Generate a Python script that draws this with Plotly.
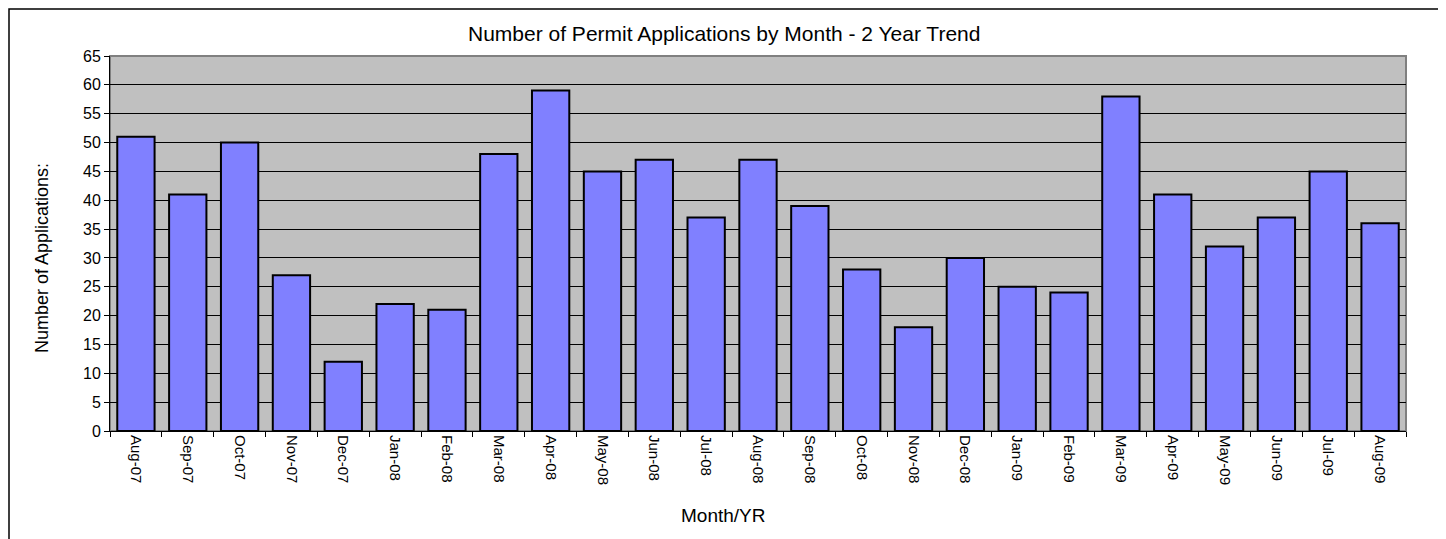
import plotly.graph_objects as go

months = ["Aug-07", "Sep-07", "Oct-07", "Nov-07", "Dec-07", "Jan-08", "Feb-08", "Mar-08",
          "Apr-08", "May-08", "Jun-08", "Jul-08", "Aug-08", "Sep-08", "Oct-08", "Nov-08",
          "Dec-08", "Jan-09", "Feb-09", "Mar-09", "Apr-09", "May-09", "Jun-09", "Jul-09", "Aug-09"]
applications = [51, 41, 50, 27, 12, 22, 21, 48, 59, 45, 47, 37, 47, 39, 28, 18,
                30, 25, 24, 58, 41, 32, 37, 45, 36]
y_ticks = list(range(0, 70, 5))

FONT = "Liberation Sans, Arial, sans-serif"

# page body has an 8px margin: figure coords = screen coords - 8
W, H = 1446, 539
L, T = 102, 48
R = W - 1398
B = H - 423
pw, ph = 1398 - L, 423 - T

def px(fx):
    return (fx - L) / pw

def py(fy):
    return (423 - fy) / ph

fig = go.Figure(go.Bar(
    x=months, y=applications,
    marker=dict(color="#8080FF", line=dict(color="black", width=2)),
))

fig.update_layout(
    width=W, height=H,
    margin=dict(l=L, r=R, t=T, b=B),
    paper_bgcolor="white", plot_bgcolor="#C0C0C0",
    bargap=0.28,
    showlegend=False,
    xaxis=dict(
        tickangle=90, tickfont=dict(family=FONT, size=15, color="black"),
        ticks="outside", ticklen=5, tickcolor="black", tickson="boundaries",
        showline=True, linecolor="black", linewidth=1,
        showgrid=False,
    ),
    yaxis=dict(
        range=[0, 65], tickvals=y_ticks,
        tickfont=dict(family=FONT, size=16, color="black"),
        ticks="outside", ticklen=5, tickcolor="black",
        showline=True, linecolor="black", linewidth=1,
        showgrid=True, gridcolor="black", gridwidth=1,
        zeroline=False,
    ),
    shapes=[
        dict(type="rect", xref="paper", yref="paper",
             x0=px(1), x1=px(1435), y0=py(600), y1=py(1),
             line=dict(color="black", width=1.5), layer="below"),
        dict(type="rect", xref="paper", yref="paper", x0=0, x1=1, y0=0, y1=1,
             line=dict(color="#808080", width=2), layer="below"),
    ],
    annotations=[
        dict(text="Number of Permit Applications by Month - 2 Year Trend",
             xref="paper", yref="paper", x=px(716), y=py(25),
             xanchor="center", yanchor="middle", showarrow=False,
             font=dict(family=FONT, size=21, color="black")),
        dict(text="Number of Applications:",
             xref="paper", yref="paper", x=px(34), y=py(250),
             xanchor="center", yanchor="middle", showarrow=False, textangle=-90,
             font=dict(family=FONT, size=18, color="black")),
        dict(text="Month/YR",
             xref="paper", yref="paper", x=px(715), y=py(508),
             xanchor="center", yanchor="middle", showarrow=False,
             font=dict(family=FONT, size=19, color="black")),
    ],
)

fig.write_html("out.html")
